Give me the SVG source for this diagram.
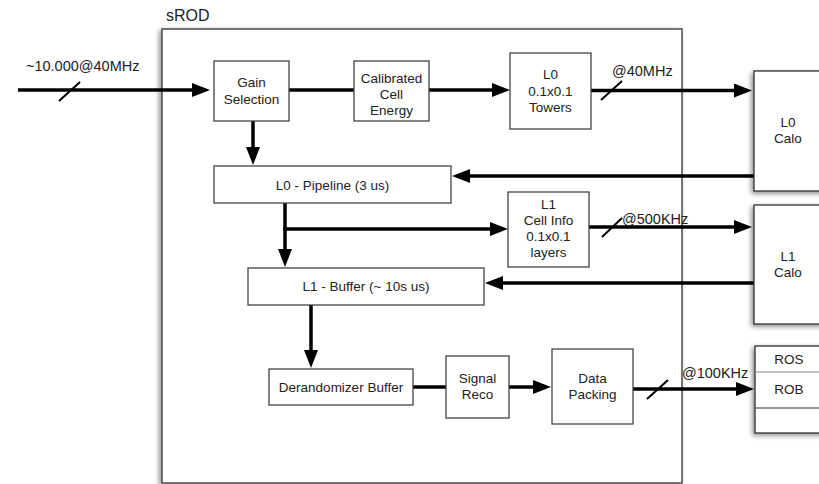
<svg xmlns="http://www.w3.org/2000/svg" width="819" height="484" viewBox="0 0 819 484">
<defs>
<filter id="sh" x="-20%" y="-20%" width="140%" height="140%">
<feGaussianBlur in="SourceAlpha" stdDeviation="2.5"/>
<feOffset dx="-2" dy="2" result="b"/>
<feComponentTransfer><feFuncA type="linear" slope="0.45"/></feComponentTransfer>
<feMerge><feMergeNode/><feMergeNode in="SourceGraphic"/></feMerge>
</filter>
<marker id="ah" markerUnits="userSpaceOnUse" markerWidth="19" markerHeight="15" refX="0" refY="7" orient="auto">
<path d="M0,0 L18,7 L0,14 z" fill="#000"/>
</marker>
</defs>
<style>
text{font-family:"Liberation Sans",Arial,sans-serif;font-size:13.5px;fill:#222}
.c{text-anchor:middle}
.lbl{font-size:14.5px}
.box{fill:#fff;stroke:#444;stroke-width:1.3}
.ext{fill:#fff;stroke:#333;stroke-width:1.3}
.w{stroke:#000;stroke-width:3.5;fill:none}
.a{stroke:#000;stroke-width:3.5;fill:none;marker-end:url(#ah)}
.sl{stroke:#000;stroke-width:2}
</style>
<rect width="819" height="484" fill="#fff"/>

<g id="sROD">
<rect x="162" y="29" width="520" height="454" fill="#fff" stroke="#555" stroke-width="1.6" filter="url(#sh)"/>
<text x="166" y="21" style="font-size:16px">sROD</text>
</g>

<g id="connectors">
<line class="a" x1="18" y1="90" x2="192" y2="90"/>
<line class="sl" x1="59" y1="101" x2="80" y2="82"/>
<line class="w" x1="289" y1="90" x2="354" y2="90"/>
<line class="a" x1="429" y1="90" x2="492" y2="90"/>
<line class="a" x1="591" y1="90.5" x2="734" y2="90.5"/>
<line class="sl" x1="601" y1="100" x2="622" y2="81"/>
<line class="a" x1="754" y1="176" x2="470" y2="176"/>
<line class="a" x1="253" y1="121" x2="253" y2="147"/>
<line class="a" x1="285" y1="203" x2="285" y2="249"/>
<line class="a" x1="283.25" y1="229" x2="490" y2="229"/>
<line class="a" x1="589" y1="227" x2="734" y2="227"/>
<line class="sl" x1="602" y1="237" x2="622" y2="218"/>
<line class="a" x1="754" y1="283" x2="503" y2="283"/>
<line class="a" x1="311" y1="305" x2="311" y2="350"/>
<line class="w" x1="413" y1="387" x2="446" y2="387"/>
<line class="a" x1="509" y1="387" x2="533" y2="387"/>
<line class="a" x1="633" y1="389" x2="736" y2="389"/>
<line class="sl" x1="647" y1="399" x2="668" y2="380"/>
<text class="lbl" x="26" y="71">~10.000@40MHz</text>
<text class="lbl" x="612" y="76">@40MHz</text>
<text class="lbl" x="622" y="224">@500KHz</text>
<text class="lbl" x="682" y="378">@100KHz</text>
</g>

<g id="gain">
<rect class="box" x="214" y="61" width="75" height="60"/>
<text class="c" x="251.5" y="87">Gain</text>
<text class="c" x="251.5" y="104">Selection</text>
</g>
<g id="calib">
<rect class="box" x="354" y="61" width="75" height="60"/>
<text class="c" x="391.5" y="83">Calibrated</text>
<text class="c" x="391.5" y="99">Cell</text>
<text class="c" x="391.5" y="115">Energy</text>
</g>
<g id="l0towers">
<rect class="box" x="510" y="53" width="81" height="76"/>
<text class="c" x="550.5" y="79">L0</text>
<text class="c" x="550.5" y="96">0.1x0.1</text>
<text class="c" x="550.5" y="112">Towers</text>
</g>
<g id="l0pipe">
<rect class="box" x="214" y="166" width="237" height="37"/>
<text class="c" x="332.5" y="190">L0 - Pipeline (3 us)</text>
</g>
<g id="l1cell">
<rect class="box" x="508" y="192" width="81" height="75"/>
<text class="c" x="548.5" y="209">L1</text>
<text class="c" x="548.5" y="225">Cell Info</text>
<text class="c" x="548.5" y="241">0.1x0.1</text>
<text class="c" x="548.5" y="257">layers</text>
</g>
<g id="l1buf">
<rect class="box" x="248" y="268" width="236" height="37"/>
<text class="c" x="366" y="291">L1 - Buffer (~ 10s us)</text>
</g>
<g id="derand">
<rect class="box" x="269" y="369" width="144" height="36"/>
<text class="c" x="341" y="392">Derandomizer Buffer</text>
</g>
<g id="sigreco">
<rect class="box" x="446" y="356" width="63" height="62"/>
<text class="c" x="477.5" y="383">Signal</text>
<text class="c" x="477.5" y="399">Reco</text>
</g>
<g id="datapack">
<rect class="box" x="552" y="349" width="81" height="75"/>
<text class="c" x="592.5" y="383">Data</text>
<text class="c" x="592.5" y="399">Packing</text>
</g>

<g id="l0calo">
<rect class="ext" x="754" y="71" width="80" height="120" filter="url(#sh)"/>
<text class="c" x="788" y="127">L0</text>
<text class="c" x="788" y="143">Calo</text>
</g>
<g id="l1calo">
<rect class="ext" x="754" y="205" width="80" height="119" filter="url(#sh)"/>
<text class="c" x="788" y="261">L1</text>
<text class="c" x="788" y="277">Calo</text>
</g>
<g id="ros">
<rect class="ext" x="755" y="346" width="80" height="87" filter="url(#sh)"/>
<line x1="755" y1="372" x2="819" y2="372" stroke="#888" stroke-width="1.2"/>
<line x1="755" y1="408" x2="819" y2="408" stroke="#333" stroke-width="1.2"/>
<text class="c" x="789" y="364">ROS</text>
<text class="c" x="789" y="394">ROB</text>
</g>
</svg>
